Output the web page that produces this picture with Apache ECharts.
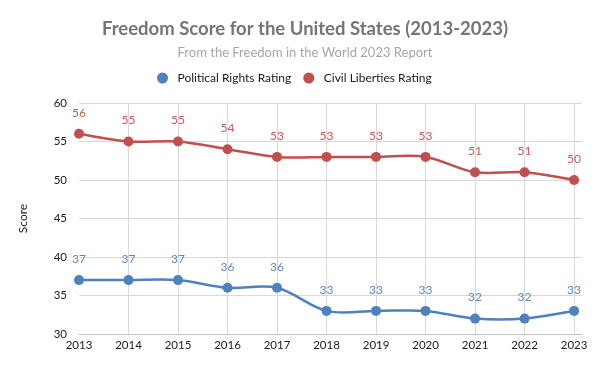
<!DOCTYPE html>
<html>
<head>
<meta charset="utf-8">
<script src="https://cdn.jsdelivr.net/npm/echarts@6/dist/echarts.min.js"></script>
<style>html,body{margin:0;padding:0;background:#fff;}#c{width:600px;height:371px;}</style>
</head>
<body>
<div id="c"></div>
<script>
const years = [2013, 2014, 2015, 2016, 2017, 2018, 2019, 2020, 2021, 2022, 2023];
const politicalRights = [37, 37, 37, 36, 36, 33, 33, 33, 32, 32, 33];
const civilLiberties = [56, 55, 55, 54, 53, 53, 53, 53, 51, 51, 50];
const yTicks = [30, 35, 40, 45, 50, 55, 60];

const FONT = 'Lato';
const BLUE = '#4f81bd';
const RED = '#c0504d';
const chart = echarts.init(document.getElementById('c'), null, {renderer: 'canvas'});
const pairs = arr => years.map((y, i) => [y, arr[i]]);

// Excel-like smoothed line, drawn from the data through the axes (api.coord)
function smoothRenderer(values, color) {
  return function (params, api) {
    if (params.dataIndex !== 0) return null;
    const p = years.map((y, i) => api.coord([y, values[i]]));
    const n = p.length;
    let d = 'M' + p[0][0] + ' ' + p[0][1];
    for (let i = 0; i < n - 1; i++) {
      const p0 = p[Math.max(i - 1, 0)], p1 = p[i], p2 = p[i + 1], p3 = p[Math.min(i + 2, n - 1)];
      const c1x = p1[0] + (p2[0] - p0[0]) / 6, c1y = p1[1] + (p2[1] - p0[1]) / 6;
      const c2x = p2[0] - (p3[0] - p1[0]) / 6, c2y = p2[1] - (p3[1] - p1[1]) / 6;
      d += ' C' + c1x + ' ' + c1y + ' ' + c2x + ' ' + c2y + ' ' + p2[0] + ' ' + p2[1];
    }
    return {type: 'path', shape: {pathData: d}, style: {stroke: color, lineWidth: 2.5, fill: 'none'}};
  };
}

chart.setOption({
  backgroundColor: '#ffffff',
  animation: false,
  textStyle: {fontFamily: FONT},
  title: [
    {text: 'Freedom Score for the United States (2013-2023)', left: 300, top: 15, textAlign: 'center',
     textStyle: {fontFamily: FONT, fontSize: 18.5, fontWeight: 'bold', color: '#757575'}},
    {text: 'From the Freedom in the World 2023 Report', left: 300, top: 41, textAlign: 'center',
     textStyle: {fontFamily: FONT, fontSize: 13, fontWeight: 'normal', color: '#a6a6a6'}}
  ],
  legend: {
    top: 67, left: 152, itemGap: 12, icon: 'circle', itemWidth: 20, itemHeight: 11,
    textStyle: {fontFamily: FONT, fontSize: 12, color: '#1a1a1a'},
    data: ['Political Rights Rating', 'Civil Liberties Rating']
  },
  grid: {left: 79, right: 18, top: 103, bottom: 37, containLabel: false},
  xAxis: {
    type: 'value', min: years[0], max: 2023.16, interval: 1,
    axisLine: {show: true, lineStyle: {color: '#bfbfbf'}},
    axisTick: {show: false},
    axisLabel: {color: '#1a1a1a', fontSize: 11.5, margin: 5, showMaxLabel: false,
      formatter: v => (Number.isInteger(v) ? String(v) : '')},
    splitLine: {show: true, showMinLine: false, showMaxLine: false, lineStyle: {color: '#d9d9d9'}}
  },
  yAxis: {
    type: 'value', min: yTicks[0], max: yTicks[yTicks.length - 1], interval: 5,
    name: 'Score', nameLocation: 'middle', nameGap: 50, nameRotate: 90,
    nameTextStyle: {fontFamily: FONT, fontSize: 12, color: '#1a1a1a'},
    axisLine: {show: false}, axisTick: {show: false},
    axisLabel: {color: '#1a1a1a', fontSize: 11.5, margin: 12},
    splitLine: {lineStyle: {color: '#d9d9d9'}}
  },
  series: [
    {name: 'pr-curve', type: 'custom', data: pairs(politicalRights), renderItem: smoothRenderer(politicalRights, BLUE),
     z: 1, silent: true, tooltip: {show: false}},
    {name: 'cl-curve', type: 'custom', data: pairs(civilLiberties), renderItem: smoothRenderer(civilLiberties, RED),
     z: 1, silent: true, tooltip: {show: false}},
    {name: 'Political Rights Rating', type: 'line', data: pairs(politicalRights), z: 3,
     symbol: 'circle', symbolSize: 10, color: BLUE, lineStyle: {width: 0, opacity: 0},
     itemStyle: {color: BLUE},
     label: {show: true, position: 'top', distance: 10, color: '#5b8ac2', fontSize: 12, fontFamily: FONT}},
    {name: 'Civil Liberties Rating', type: 'line', data: pairs(civilLiberties), z: 3,
     symbol: 'circle', symbolSize: 10, color: RED, lineStyle: {width: 0, opacity: 0},
     itemStyle: {color: RED},
     label: {show: true, position: 'top', distance: 10, color: '#c45a57', fontSize: 12, fontFamily: FONT}}
  ]
});
</script>
</body>
</html>
